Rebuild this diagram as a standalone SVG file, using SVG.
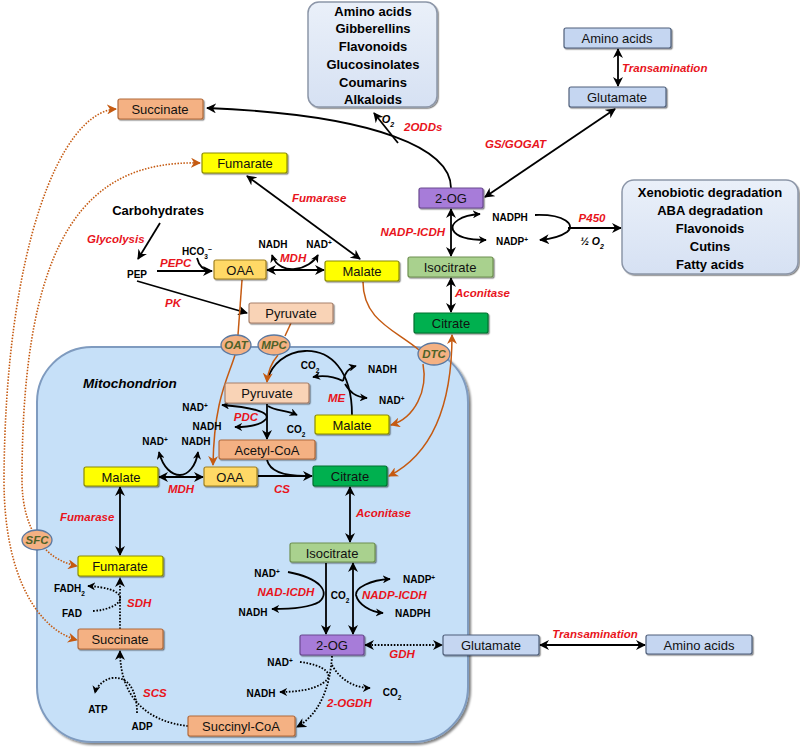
<svg xmlns="http://www.w3.org/2000/svg" width="800" height="747" viewBox="0 0 800 747">
<defs>
<style>
.lbl{font-family:"Liberation Sans",Arial,sans-serif;font-weight:bold;font-style:italic;fill:#E8141C;font-size:11.5px}
.sm{font-family:"Liberation Sans",Arial,sans-serif;font-weight:bold;font-size:10px;fill:#000}
.nd{font-family:"Liberation Sans",Arial,sans-serif;font-size:13px;fill:#111;text-anchor:middle}
.big{font-family:"Liberation Sans",Arial,sans-serif;font-weight:bold;font-size:13px;fill:#000;text-anchor:middle}
.tp{font-family:"Liberation Sans",Arial,sans-serif;font-weight:bold;font-style:italic;font-size:11.5px;fill:#4F6228;text-anchor:middle}
.ln{fill:none;stroke:#000;stroke-width:1.8}
.dt{fill:none;stroke:#000;stroke-width:1.8;stroke-dasharray:1.6 1.6}
.or{fill:none;stroke:#C55A11;stroke-width:1.5}
.ord{fill:none;stroke:#C55A11;stroke-width:1.6;stroke-dasharray:1.5 1.5}
.orange{fill:#F4B183;stroke:#B26A3A;stroke-width:1.2}
.pyr{fill:#F9D3B6;stroke:#A8806A;stroke-width:1.2}
.yel{fill:#FFFF00;stroke:#8C8C00;stroke-width:1.2}
.oaa{fill:#FFD966;stroke:#A08020;stroke-width:1.2}
.cit{fill:#00B050;stroke:#00702E;stroke-width:1.2}
.iso{fill:#A9D18E;stroke:#6E9050;stroke-width:1.2}
.og{fill:#A77BD9;stroke:#6A4A90;stroke-width:1.2}
.blu{fill:#C5D6F1;stroke:#4F5F7A;stroke-width:1.2}
.tr{fill:#F4B183;stroke:#5A78A0;stroke-width:1.3}
</style>
<filter id="sh" x="-10%" y="-20%" width="130%" height="150%">
<feDropShadow dx="1.2" dy="1.2" stdDeviation="0.6" flood-color="#000" flood-opacity="0.45"/>
</filter>
<filter id="msh" x="-5%" y="-5%" width="112%" height="112%">
<feDropShadow dx="2" dy="2" stdDeviation="1" flood-color="#000" flood-opacity="0.5"/>
</filter>
<linearGradient id="bg" x1="0" y1="0" x2="0" y2="1">
<stop offset="0" stop-color="#EAF0F9"/>
<stop offset="1" stop-color="#D6E1F3"/>
</linearGradient>
<marker id="ah" viewBox="0 0 10 10" refX="9" refY="5" markerWidth="10" markerHeight="10" markerUnits="userSpaceOnUse" orient="auto-start-reverse">
<path d="M0,0 L10,5 L0,10 L3,5z" fill="#000"/>
</marker>
<marker id="as" viewBox="0 0 10 10" refX="9" refY="5" markerWidth="8" markerHeight="8" markerUnits="userSpaceOnUse" orient="auto-start-reverse">
<path d="M0,0 L10,5 L0,10 L3,5z" fill="#000"/>
</marker>
<marker id="ao" viewBox="0 0 10 10" refX="9" refY="5" markerWidth="10" markerHeight="10" markerUnits="userSpaceOnUse" orient="auto-start-reverse">
<path d="M0,0 L10,5 L0,10 L3,5z" fill="#C55A11"/>
</marker>
</defs>

<g id="mitochondrion">
<rect x="37" y="347" width="431" height="395" rx="55" fill="#C6E0F8" stroke="#7F9BBF" stroke-width="2" filter="url(#msh)"/>
<text x="83" y="388" font-family="Liberation Sans, Arial, sans-serif" font-weight="bold" font-style="italic" font-size="13.5" fill="#000">Mitochondrion</text>
</g>

<g id="connectors">
<!-- cytosol black -->
<path class="ln" d="M451,188 C451,150 380,115 207,108" marker-end="url(#ah)"/>
<path class="ln" d="M398,143 L374,113" marker-end="url(#ah)"/>
<path class="ln" d="M485,197 L615,109" marker-start="url(#ah)" marker-end="url(#ah)"/>
<path class="ln" d="M618,49 L618,86" marker-start="url(#ah)" marker-end="url(#ah)"/>
<path class="ln" d="M451,209 L451,256" marker-start="url(#ah)" marker-end="url(#ah)"/>
<path class="ln" d="M480,214 C460,215 450,224 453,230 C456,236 466,240 486,240" marker-start="url(#as)" marker-end="url(#as)"/>
<path class="ln" d="M535,215 C565,214 576,225 567,232 C560,237 551,239 540,240" marker-end="url(#ah)"/>
<path class="ln" d="M568,228 L621,228" marker-end="url(#ah)"/>
<path class="ln" d="M247,176 L360,259" marker-start="url(#ah)" marker-end="url(#ah)"/>
<path class="ln" d="M160,223 L138,259" marker-end="url(#ah)"/>
<path class="ln" d="M157,271 L212,271" marker-end="url(#ah)"/>
<path class="ln" d="M197,258 C199,266 203,270 210,271"/>
<path class="ln" d="M267,270 L324,270" marker-start="url(#ah)" marker-end="url(#ah)"/>
<path class="ln" d="M272,255 C276,267 287,270 295,269 C305,268 314,262 318,255" marker-start="url(#as)" marker-end="url(#as)"/>
<path class="ln" d="M137,281 L247,313" marker-end="url(#ah)"/>
<path class="ln" d="M451,278 L451,312" marker-start="url(#ah)" marker-end="url(#ah)"/>
<!-- mito black -->
<path class="ln" d="M267,404 L267,439" marker-end="url(#ah)"/>
<path class="ln" d="M222,405 C250,407 271,412 266,419 C261,425 247,427 235,427" marker-start="url(#as)" marker-end="url(#as)"/>
<path class="ln" d="M268,406 C275,411 286,410 297,415" marker-end="url(#as)"/>
<path class="ln" d="M352,415 C352,370 330,350 305,351 C285,352 272,365 268,378"/>
<path class="ln" d="M343,381 C335,377 325,375 313,377" marker-end="url(#as)"/>
<path class="ln" d="M343,381 C345,373 348,368 356,366" marker-end="url(#as)"/>
<path class="ln" d="M345,384 C350,392 355,397 367,398" marker-end="url(#as)"/>
<path class="ln" d="M159,477 L203,477" marker-start="url(#ah)" marker-end="url(#ah)"/>
<path class="ln" d="M159,452 C163,468 172,475 180,475 C188,475 196,466 198,452" marker-start="url(#as)" marker-end="url(#as)"/>
<path class="ln" d="M258,476 L312,476" marker-end="url(#ah)"/>
<path class="ln" d="M267,460 C270,472 285,476 305,476"/>
<path class="ln" d="M350,487 L350,542" marker-start="url(#ah)" marker-end="url(#ah)"/>
<path class="ln" d="M120,487 L120,555" marker-start="url(#ah)" marker-end="url(#ah)"/>
<path class="ln" d="M326,563 L326,634" marker-end="url(#ah)"/>
<path class="ln" d="M288,572 C320,578 331,592 319,602 C309,608 290,609 272,609" marker-end="url(#as)"/>
<path class="ln" d="M353,563 L353,634" marker-start="url(#ah)" marker-end="url(#ah)"/>
<path class="ln" d="M390,579 C370,580 355,588 356,595 C358,604 370,612 383,613" marker-start="url(#as)" marker-end="url(#as)"/>
<path class="ln" d="M540,645 L645,645" marker-start="url(#ah)" marker-end="url(#ah)"/>
<!-- dotted black -->
<path class="dt" d="M365,645 L442,645" marker-start="url(#ah)" marker-end="url(#ah)"/>
<path class="dt" d="M332,656 C330,690 318,715 297,727" marker-end="url(#ah)"/>
<path class="dt" d="M300,662 C325,665 336,675 323,683 C313,690 295,692 280,692" marker-end="url(#as)"/>
<path class="dt" d="M332,665 C340,680 355,688 370,688" marker-end="url(#as)"/>
<path class="dt" d="M188,726 C150,722 120,700 120,651" marker-end="url(#ah)"/>
<path class="dt" d="M137,713 C137,690 128,676 112,678 C102,680 96,688 95,693" marker-end="url(#as)"/>
<path class="dt" d="M120,629 L120,578" marker-end="url(#ah)"/>
<path class="dt" d="M93,611 C110,610 122,603 120,597 C118,590 105,587 88,586" marker-end="url(#as)"/>
<!-- orange transport -->
<path class="or" d="M242,280 L238,335"/>
<path class="or" d="M235,355 C228,378 214,400 213,465" marker-end="url(#ao)"/>
<path class="or" d="M291,323 L285,336"/>
<path class="or" d="M278,355 C272,362 268,370 267,382" marker-end="url(#ao)"/>
<path class="or" d="M363,282 C363,320 395,330 419,350"/>
<path class="or" d="M423,364 C428,390 415,418 391,425" marker-end="url(#ao)"/>
<path class="or" d="M389,476 C430,455 452,410 452,335" marker-start="url(#ao)" marker-end="url(#ao)"/>
<path class="ord" d="M116,109 C60,112 5,250 4,480 C4,580 40,630 77,640" marker-start="url(#ao)" marker-end="url(#ao)"/>
<path class="ord" d="M200,163 C90,160 22,230 22,480 C22,530 45,560 77,566" marker-start="url(#ao)" marker-end="url(#ao)"/>
</g>

<g id="products-2odd">
<rect x="308" y="2" width="129" height="105" rx="11" fill="url(#bg)" stroke="#8C96A8" stroke-width="1.5" filter="url(#sh)"/>
<text class="big" x="373" y="16">Amino acids</text>
<text class="big" x="373" y="33">Gibberellins</text>
<text class="big" x="373" y="51">Flavonoids</text>
<text class="big" x="373" y="69">Glucosinolates</text>
<text class="big" x="373" y="87">Coumarins</text>
<text class="big" x="373" y="104">Alkaloids</text>
</g>
<g id="products-p450">
<rect x="622" y="180" width="176" height="94" rx="12" fill="url(#bg)" stroke="#8C96A8" stroke-width="1.5" filter="url(#sh)"/>
<text class="big" x="710" y="197">Xenobiotic degradation</text>
<text class="big" x="710" y="215">ABA degradation</text>
<text class="big" x="710" y="233">Flavonoids</text>
<text class="big" x="710" y="251">Cutins</text>
<text class="big" x="710" y="269">Fatty acids</text>
</g>

<g id="aminoacids-top"><rect class="blu" x="564" y="28" width="107" height="20" rx="2" filter="url(#sh)"/><text class="nd" x="617" y="43">Amino acids</text></g>
<g id="glutamate-top"><rect class="blu" x="569" y="87" width="97" height="20" rx="2" filter="url(#sh)"/><text class="nd" x="617" y="102">Glutamate</text></g>
<g id="succinate-top"><rect class="orange" x="118" y="99" width="85" height="20" rx="2" filter="url(#sh)"/><text class="nd" x="160" y="114">Succinate</text></g>
<g id="fumarate-top"><rect class="yel" x="202" y="153" width="85" height="20" rx="2" filter="url(#sh)"/><text class="nd" x="245" y="168">Fumarate</text></g>
<g id="og-top"><rect class="og" x="419" y="188" width="64" height="20" rx="2" filter="url(#sh)"/><text class="nd" x="451" y="203">2-OG</text></g>
<g id="isocitrate-top"><rect class="iso" x="408" y="257" width="85" height="20" rx="2" filter="url(#sh)"/><text class="nd" x="450" y="272">Isocitrate</text></g>
<g id="citrate-top"><rect class="cit" x="414" y="313" width="74" height="20" rx="2" filter="url(#sh)"/><text class="nd" x="451" y="328">Citrate</text></g>
<g id="oaa-top"><rect class="oaa" x="214" y="260" width="52" height="19" rx="2" filter="url(#sh)"/><text class="nd" x="240" y="275">OAA</text></g>
<g id="malate-top"><rect class="yel" x="325" y="261" width="74" height="20" rx="2" filter="url(#sh)"/><text class="nd" x="362" y="276">Malate</text></g>
<g id="pyruvate-top"><rect class="pyr" x="249" y="303" width="84" height="20" rx="2" filter="url(#sh)"/><text class="nd" x="291" y="318">Pyruvate</text></g>

<g id="pyruvate-mito"><rect class="pyr" x="225" y="383" width="84" height="20" rx="2" filter="url(#sh)"/><text class="nd" x="267" y="398">Pyruvate</text></g>
<g id="acetylcoa"><rect class="orange" x="219" y="440" width="96" height="19" rx="2" filter="url(#sh)"/><text class="nd" x="267" y="455">Acetyl-CoA</text></g>
<g id="malate-me"><rect class="yel" x="315" y="415" width="74" height="19" rx="2" filter="url(#sh)"/><text class="nd" x="352" y="430">Malate</text></g>
<g id="malate-mito"><rect class="yel" x="84" y="467" width="74" height="19" rx="2" filter="url(#sh)"/><text class="nd" x="121" y="482">Malate</text></g>
<g id="oaa-mito"><rect class="oaa" x="204" y="467" width="53" height="19" rx="2" filter="url(#sh)"/><text class="nd" x="230" y="482">OAA</text></g>
<g id="citrate-mito"><rect class="cit" x="313" y="466" width="74" height="20" rx="2" filter="url(#sh)"/><text class="nd" x="350" y="481">Citrate</text></g>
<g id="isocitrate-mito"><rect class="iso" x="290" y="543" width="85" height="19" rx="2" filter="url(#sh)"/><text class="nd" x="332" y="558">Isocitrate</text></g>
<g id="og-mito"><rect class="og" x="300" y="635" width="64" height="20" rx="2" filter="url(#sh)"/><text class="nd" x="332" y="650">2-OG</text></g>
<g id="glutamate-low"><rect class="blu" x="443" y="635" width="96" height="20" rx="2" filter="url(#sh)"/><text class="nd" x="491" y="650">Glutamate</text></g>
<g id="aminoacids-low"><rect class="blu" x="646" y="635" width="106" height="19" rx="2" filter="url(#sh)"/><text class="nd" x="699" y="650">Amino acids</text></g>
<g id="fumarate-mito"><rect class="yel" x="78" y="556" width="85" height="20" rx="2" filter="url(#sh)"/><text class="nd" x="120" y="571">Fumarate</text></g>
<g id="succinate-mito"><rect class="orange" x="78" y="629" width="85" height="20" rx="2" filter="url(#sh)"/><text class="nd" x="120" y="644">Succinate</text></g>
<g id="succinylcoa"><rect class="orange" x="188" y="716" width="107" height="20" rx="2" filter="url(#sh)"/><text class="nd" x="241" y="731">Succinyl-CoA</text></g>

<g id="OAT"><ellipse class="tr" cx="236" cy="345" rx="15" ry="10"/><text class="tp" x="236" y="349">OAT</text></g>
<g id="MPC"><ellipse class="tr" cx="274" cy="345" rx="16" ry="10"/><text class="tp" x="274" y="349">MPC</text></g>
<g id="DTC"><ellipse class="tr" cx="434" cy="354" rx="16" ry="11"/><text class="tp" x="434" y="358">DTC</text></g>
<g id="SFC"><ellipse class="tr" cx="37" cy="540" rx="15" ry="10"/><text class="tp" x="37" y="544">SFC</text></g>

<g id="labels">
<text x="388" y="123" font-family="Liberation Sans, Arial, sans-serif" font-weight="bold" font-style="italic" font-size="11" text-anchor="middle">O<tspan baseline-shift="sub" font-size="7">2</tspan></text>
<text class="lbl" x="404" y="131">2ODDs</text>
<text class="lbl" x="485" y="148">GS/GOGAT</text>
<text class="lbl" x="622" y="72">Transamination</text>
<text class="lbl" x="445" y="236" text-anchor="end">NADP-ICDH</text>
<text class="sm" x="510" y="221" text-anchor="middle">NADPH</text>
<text class="sm" x="512" y="245" text-anchor="middle">NADP<tspan baseline-shift="super" font-size="6.5">+</tspan></text>
<text class="lbl" x="592" y="222" text-anchor="middle">P450</text>
<text x="592" y="245" font-family="Liberation Sans, Arial, sans-serif" font-weight="bold" font-style="italic" font-size="10.5" text-anchor="middle">½ O<tspan baseline-shift="sub" font-size="7">2</tspan></text>
<text class="lbl" x="455" y="297">Aconitase</text>
<text class="lbl" x="292" y="202">Fumarase</text>
<text class="big" x="158" y="215">Carbohydrates</text>
<text class="lbl" x="87" y="243">Glycolysis</text>
<text class="sm" x="137" y="278" text-anchor="middle" font-size="11">PEP</text>
<text class="sm" x="182" y="255">HCO<tspan baseline-shift="sub" font-size="6.5">3</tspan><tspan baseline-shift="super" font-size="7">−</tspan></text>
<text class="lbl" x="160" y="267">PEPC</text>
<text class="sm" x="273" y="248" text-anchor="middle">NADH</text>
<text class="sm" x="319" y="248" text-anchor="middle">NAD<tspan baseline-shift="super" font-size="6.5">+</tspan></text>
<text class="lbl" x="280" y="262">MDH</text>
<text class="lbl" x="165" y="307">PK</text>

<text class="lbl" x="246" y="421" text-anchor="middle">PDC</text>
<text class="sm" x="195" y="411" text-anchor="middle">NAD<tspan baseline-shift="super" font-size="6.5">+</tspan></text>
<text class="sm" x="207" y="430" text-anchor="middle">NADH</text>
<text class="sm" x="296" y="433" text-anchor="middle">CO<tspan baseline-shift="sub" font-size="6.5">2</tspan></text>
<text class="sm" x="310" y="369" text-anchor="middle">CO<tspan baseline-shift="sub" font-size="6.5">2</tspan></text>
<text class="sm" x="368" y="373">NADH</text>
<text class="sm" x="379" y="404">NAD<tspan baseline-shift="super" font-size="6.5">+</tspan></text>
<text class="lbl" x="328" y="402">ME</text>
<text class="sm" x="155" y="445" text-anchor="middle">NAD<tspan baseline-shift="super" font-size="6.5">+</tspan></text>
<text class="sm" x="196" y="445" text-anchor="middle">NADH</text>
<text class="lbl" x="181" y="493" text-anchor="middle">MDH</text>
<text class="lbl" x="282" y="493" text-anchor="middle">CS</text>
<text class="lbl" x="356" y="517">Aconitase</text>
<text class="lbl" x="60" y="521">Fumarase</text>
<text class="sm" x="267" y="577" text-anchor="middle">NAD<tspan baseline-shift="super" font-size="6.5">+</tspan></text>
<text class="sm" x="253" y="616" text-anchor="middle">NADH</text>
<text class="lbl" x="286" y="596" text-anchor="middle">NAD-ICDH</text>
<text class="sm" x="340" y="599" text-anchor="middle">CO<tspan baseline-shift="sub" font-size="6.5">2</tspan></text>
<text class="sm" x="403" y="583">NADP<tspan baseline-shift="super" font-size="6.5">+</tspan></text>
<text class="sm" x="395" y="617">NADPH</text>
<text class="lbl" x="362" y="599">NADP-ICDH</text>
<text class="lbl" x="402" y="658" text-anchor="middle">GDH</text>
<text class="lbl" x="595" y="638" text-anchor="middle">Transamination</text>
<text class="sm" x="280" y="666" text-anchor="middle">NAD<tspan baseline-shift="super" font-size="6.5">+</tspan></text>
<text class="sm" x="261" y="697" text-anchor="middle">NADH</text>
<text class="sm" x="392" y="696" text-anchor="middle">CO<tspan baseline-shift="sub" font-size="6.5">2</tspan></text>
<text class="lbl" x="327" y="707">2-OGDH</text>
<text class="sm" x="54" y="592">FADH<tspan baseline-shift="sub" font-size="6.5">2</tspan></text>
<text class="sm" x="62" y="617">FAD</text>
<text class="lbl" x="127" y="607">SDH</text>
<text class="lbl" x="143" y="697">SCS</text>
<text class="sm" x="98" y="713" text-anchor="middle">ATP</text>
<text class="sm" x="142" y="730" text-anchor="middle">ADP</text>
</g>
</svg>
